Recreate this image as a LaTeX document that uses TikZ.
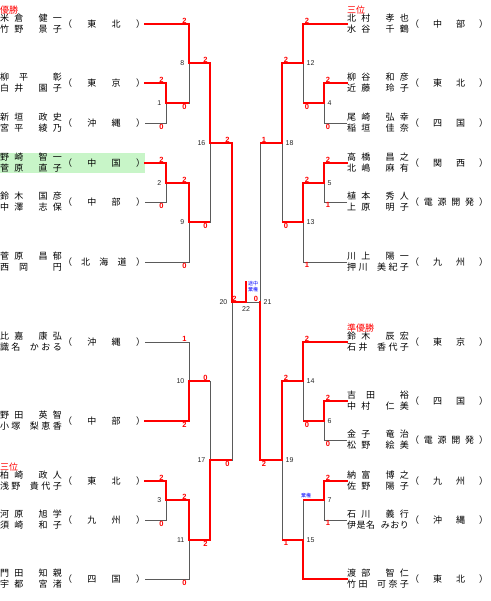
\documentclass[tikz,border=0pt]{standalone}
\usepackage{fontspec}
\newfontfamily\jp{Noto Sans CJK JP}
\newfontfamily\dg{Liberation Sans}
\usetikzlibrary{positioning}

\definecolor{winred}{HTML}{FF0000}
\definecolor{lngray}{HTML}{5A5A5A}
\definecolor{hlgreen}{HTML}{C8F5C8}
\definecolor{kkblue}{HTML}{0000FF}

% spread the characters of a name / team over a fixed width
\def\sprA#1{#1\sprB}
\def\sprB#1{\ifx\relax#1\else\hfill#1\expandafter\sprB\fi}
\def\sprC#1{\ifx\relax#1\else\hfill#1\expandafter\sprC\fi}
\newcommand\nm[2]{\hbox to 62pt{\sprA#1\relax\hfill\hbox to 4.5pt{}\hfill\sprA#2\relax}}
\newcommand\tm[2]{\hbox to #1{（\sprC#2\relax\hfill）}}
\newcommand\duo[6][82pt]{$\vcenter{\baselineskip=11pt\lineskiplimit=-20pt
  \nm{#2}{#3}\nm{#4}{#5}}$\kern1pt\raisebox{-1pt}{\tm{#1}{#6}}}

\begin{document}
\begin{tikzpicture}[x=1pt,y=-1pt,
  pl/.style={inner sep=0pt,outer sep=0pt,anchor=west,font=\fontsize{9}{11}\jp},
  won/.style={draw=winred,line width=2pt,line cap=rect},
  lost/.style={draw=lngray,line width=0.9pt},
  sc/.style={text=winred,font=\fontsize{7.5}{8}\dg\bfseries,inner sep=0.6pt},
  lA/.style={sc,anchor=south,xshift=-4.5pt},
  lB/.style={sc,anchor=north,xshift=-4.5pt},
  rA/.style={sc,anchor=south,xshift=4pt},
  rB/.style={sc,anchor=north,xshift=4pt},
  mn/.style={font=\fontsize{7}{8}\dg,text=black!85,inner sep=0pt},
  nl/.style={anchor=east,xshift=-4.5pt},
  nr/.style={anchor=west,xshift=3.5pt},
  ttl/.style={text=winred,font=\fontsize{9}{11}\jp,inner sep=0pt},
  kk/.style={text=kkblue,font=\fontsize{5}{5.5}\jp,inner sep=0pt,align=left}]
\useasboundingbox (0,0) rectangle (490,601);

% left block
\node[pl] (L1) at (0,24) {\duo{米倉}{健一}{竹野}{景子}{東北}};
\node[pl] (L2) at (0,83) {\duo{柳平}{彰}{白井}{園子}{東京}};
\node[pl] (L3) at (0,123) {\duo{新垣}{政史}{宮平}{綾乃}{沖縄}};
\node[pl,fill=hlgreen] (L4) at (0,163) {\duo{野崎}{智一}{菅原}{直子}{中国}};
\node[pl] (L5) at (0,202) {\duo{鈴木}{国彦}{中澤}{志保}{中部}};
\node[pl] (L6) at (0,262) {\duo{菅原}{昌郁}{西岡}{円}{北海道}};
\node[pl] (L7) at (0,342) {\duo{比嘉}{康弘}{識名}{かおる}{沖縄}};
\node[pl] (L8) at (0,421) {\duo{野田}{英智}{小塚}{梨恵香}{中部}};
\node[pl] (L9) at (0,481) {\duo{柏崎}{政人}{浅野}{貴代子}{東北}};
\node[pl] (L10) at (0,520) {\duo{河原}{旭学}{須崎}{和子}{九州}};
\node[pl] (L11) at (0,579) {\duo{門田}{知親}{宇都}{宮渚}{四国}};

% right block
\node[pl] (R1) at (347,24) {\duo[78pt]{北村}{孝也}{水谷}{千鶴}{中部}};
\node[pl] (R2) at (347,83) {\duo[78pt]{柳谷}{和彦}{近藤}{玲子}{東北}};
\node[pl] (R3) at (347,123) {\duo[78pt]{尾崎}{弘幸}{稲垣}{佳奈}{四国}};
\node[pl] (R4) at (347,163) {\duo[78pt]{高橋}{昌之}{北嶋}{麻有}{関西}};
\node[pl] (R5) at (347,202) {\duo[78pt]{植本}{秀人}{上原}{明子}{電源開発}};
\node[pl] (R6) at (347,262) {\duo[78pt]{川上}{陽一}{押川}{美紀子}{九州}};
\node[pl] (R7) at (347,342) {\duo[78pt]{鈴木}{辰宏}{石井}{香代子}{東京}};
\node[pl] (R8) at (347,401) {\duo[78pt]{吉田}{裕}{中村}{仁美}{四国}};
\node[pl] (R9) at (347,440) {\duo[78pt]{金子}{竜治}{松野}{絵美}{電源開発}};
\node[pl] (R10) at (347,481) {\duo[78pt]{納富}{博之}{佐野}{陽子}{九州}};
\node[pl] (R11) at (347,520) {\duo[78pt]{石川}{義行}{伊是名}{みおり}{沖縄}};
\node[pl] (R12) at (347,579) {\duo[78pt]{渡部}{智仁}{竹田}{可奈子}{東北}};

\node[ttl,anchor=south west] (t1) at (L1.north west) {優勝};
\node[ttl,anchor=south west] (t2) at (L9.north west) {三位};
\node[ttl,anchor=south west] (t3) at (R1.north west) {三位};
\node[ttl,anchor=south west] (t4) at (R7.north west) {準優勝};

% match points
\coordinate (m1) at (166,103);
\coordinate (m8) at (189,63);
\coordinate (m2) at (166,183);
\coordinate (m9) at (189,222);
\coordinate (m16) at (210,143);
\coordinate (m10) at (189,381);
\coordinate (m3) at (166,500);
\coordinate (m11) at (189,540);
\coordinate (m17) at (210,460);
\coordinate (m20) at (232,302);
\coordinate (m4) at (324,103);
\coordinate (m12) at (303,63);
\coordinate (m5) at (324,183);
\coordinate (m13) at (303,222);
\coordinate (m18) at (282,143);
\coordinate (m6) at (324,421);
\coordinate (m14) at (303,381);
\coordinate (m7) at (324,500);
\coordinate (m15) at (303,540);
\coordinate (m19) at (282,460);
\coordinate (m21) at (260,302);
\coordinate (m22) at (246,302);
\coordinate (champ) at (246,282);
\coordinate (q7) at (m15 |- m7);

% lost lines
\foreach \a/\b in {L3/m1,L5/m2,L6/m9,L7/m10,L10/m3,L11/m11,
                   R3/m4,R5/m5,R6/m13,R9/m6,R11/m7}
  \draw[lost] (\a) -| (\b);
\foreach \a/\b in {m1/m8,m9/m16,m10/m17,m17/m20,m4/m12,m13/m18,
                   m6/m14,m7/m15,m15/m19,m18/m21}
  \draw[lost] (\a) -| (\b);
\draw[lost] (m21) -- (m22);

% won lines
\foreach \a/\b in {m1/m8,m9/m16,m10/m17,m17/m20,m4/m12,m13/m18,
                   m6/m14,m7/m15,m15/m19,m18/m21}
  \draw[won,line cap=butt] (\a) -- (\a -| \b);
\foreach \a/\b in {L2/m1,L1/m8,L4/m2,m2/m9,m8/m16,L8/m10,L9/m3,m3/m11,
                   m11/m17,m16/m20,R2/m4,R1/m12,R4/m5,m5/m13,m12/m18,
                   R8/m6,R7/m14,R10/m7,R12/m15,m14/m19,m19/m21}
  \draw[won] (\a) -| (\b);
\draw[won] (m20) -- (m22) -- (champ);

% scores
\foreach \m/\p/\v/\s [count=\i] in {
    m1/L2/2/lA,m1/L3/0/lB,m8/L1/2/lA,m8/m1/0/lB,
    m2/L4/2/lA,m2/L5/0/lB,m9/m2/2/lA,m9/L6/0/lB,
    m16/m8/2/lA,m16/m9/0/lB,m10/L7/1/lA,m10/L8/2/lB,
    m3/L9/2/lA,m3/L10/0/lB,m11/m3/2/lA,m11/L11/0/lB,
    m17/m10/0/lA,m17/m11/2/lB,m20/m16/2/lA,m20/m17/0/lB,
    m4/R2/2/rA,m4/R3/0/rB,m12/R1/2/rA,m12/m4/0/rB,
    m5/R4/2/rA,m5/R5/1/rB,m13/m5/2/rA,m13/R6/1/rB,
    m18/m12/2/rA,m18/m13/0/rB,m6/R8/2/rA,m6/R9/0/rB,
    m14/R7/2/rA,m14/m6/0/rB,m7/R10/2/rA,m7/R11/1/rB,
    m19/m14/2/rA,m19/m15/1/rB,m21/m18/1/rA,m21/m19/2/rB}
  \node[\s] (sc\i) at (\m |- \p) {\v};
\node[sc,anchor=south,xshift=2.5pt] (scF1) at (m20) {2};
\node[sc,anchor=south,xshift=-4pt] (scF2) at (m21) {0};

% match numbers
\foreach \m/\t/\s in {m1/1/nl,m8/8/nl,m2/2/nl,m9/9/nl,m16/16/nl,m10/10/nl,
                      m3/3/nl,m11/11/nl,m17/17/nl,m20/20/nl,
                      m4/4/nr,m12/12/nr,m5/5/nr,m13/13/nr,m18/18/nr,m6/6/nr,
                      m14/14/nr,m7/7/nr,m15/15/nr,m19/19/nr,m21/21/nr}
  \node[mn,\s] (n\t) at (\m) {\t};
\node[mn,anchor=north,yshift=-4pt] (n22) at (m22) {22};

\node[kk,anchor=south west] (kk1) at ([xshift=2pt,yshift=10pt]m22) {途中\\棄権};
\node[kk,anchor=south] (kk2) at ([xshift=3pt,yshift=2pt]q7) {棄権};
\end{tikzpicture}
\end{document}
